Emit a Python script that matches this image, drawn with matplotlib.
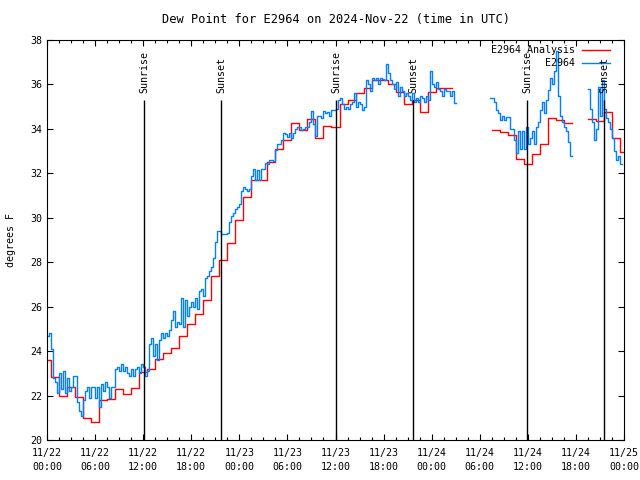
import matplotlib

matplotlib.use("Agg")
import matplotlib.pyplot as plt
import numpy as np

nan = np.nan

# analysis: one value per hour, 11/22 00:00 .. 11/25 00:00 (UTC)
analysis_hours = list(range(73))
analysis = [
    23.6, 22.82, 22.0, 22.4, 21.95, 20.97, 20.8, 21.8, 21.85, 22.3,
    22.07, 22.33, 23.07, 23.2, 23.63, 23.93, 24.12, 24.7, 25.2, 25.67,
    26.3, 27.4, 28.1, 28.85, 29.9, 30.95, 31.7, 31.7, 32.52, 33.1,
    33.5, 34.25, 33.95, 34.45, 33.6, 34.15, 34.07, 35.1, 35.3, 35.6,
    35.83, 36.2, 36.2, 36.0, 35.65, 35.1, 35.3, 34.75, 35.67, 35.85,
    35.85, nan, nan, nan, nan, nan, 33.95, 33.85, 33.72, 32.64,
    32.42, 32.87, 33.3, 34.47, 34.4, 34.25, nan, nan, 34.43, 34.37,
    34.75, 33.6, 32.97,
]

# station obs, every 15 minutes (4 values per hour)
obs_hours = [h / 4 for h in range(288)]
obs = [
    24.7, 24.8, 24.1, 22.8,   22.6, 22.1, 23.0, 22.3,   23.1, 22.1, 22.8, 22.2,
    22.4, 22.9, 22.9, 21.7,   21.3, 21.1, 21.8, 22.2,   22.4, 21.9, 22.4, 22.4,
    21.9, 22.4, 21.5, 22.5,   22.2, 22.6, 22.4, 21.9,   22.4, 22.4, 23.2, 23.3,
    23.1, 23.4, 23.1, 23.3,   23.0, 22.9, 23.2, 22.9,   23.2, 23.3, 23.0, 23.4,
    23.3, 22.9, 23.1, 24.3,   24.6, 23.8, 24.3, 23.6,   24.5, 24.8, 24.6, 24.8,
    24.7, 24.95, 25.4, 25.8,  25.1, 25.3, 25.2, 26.4,   25.1, 26.3, 25.6, 26.0,
    26.2, 26.0, 26.4, 25.9,   26.7, 26.8, 26.5, 27.3,   27.4, 27.6, 27.8, 28.2,
    28.9, 29.4, 29.4, 29.25,  29.25, 29.25, 29.3, 29.8, 30.1, 30.2, 30.4, 30.5,
    30.6, 31.2, 31.4, 31.3,   31.2, 31.3, 31.9, 32.2,   31.7, 32.15, 31.7, 32.2,
    32.2, 32.45, 32.4, 32.6,  32.6, 32.55, 33.05, 33.3, 33.3, 33.5, 33.8, 33.75,
    33.65, 33.8, 33.6, 33.8,  34.0, 34.1, 34.1, 33.95,  34.0, 34.1, 34.1, 34.3,
    34.8, 34.2, 33.7, 34.6,   34.6, 34.5, 34.8, 34.7,   34.75, 34.6, 34.85, 34.85,
    34.9, 35.3, 35.4, 35.1,   34.9, 35.0, 34.9, 35.1,   35.2, 35.6, 35.0, 35.2,
    35.1, 34.85, 35.0, 36.2,  36.0, 35.7, 36.3, 36.2,   36.3, 36.0, 36.3, 36.25,
    36.2, 36.9, 36.5, 36.2,   36.0, 35.8, 36.1, 35.5,   35.9, 35.7, 35.5, 35.6,
    35.5, 35.3, 35.6, 35.2,   35.4, 35.2, 35.5, 35.4,   35.2, 35.5, 35.3, 36.6,
    36.0, 35.9, 36.1, 35.8,   35.7, 35.5, 35.8, 35.7,   35.7, 35.5, 35.7, 35.15,
    nan, nan, nan, nan,       nan, nan, nan, nan,       nan, nan, nan, nan,
    nan, nan, nan, nan,       nan, 35.4, 35.4, 35.2,    34.85, 34.7, 34.4, 34.6,
    34.4, 34.55, 34.55, 34.0, 34.0, 33.5, 32.9, 33.9,   33.1, 33.9, 33.1, 34.1,
    33.3, 33.6, 33.9, 33.3,   34.1, 34.3, 34.85, 35.2,  34.7, 35.3, 35.75, 36.3,
    36.0, 36.6, 37.5, 35.5,   34.6, 34.3, 34.1, 33.9,   33.4, 32.8, nan, nan,
    nan, nan, nan, nan,       nan, nan, 35.8, 34.9,     34.3, 33.5, 34.0, 35.9,
    34.6, 36.2, 34.9, 34.5,   34.3, 34.0, 33.6, 33.0,   32.6, 32.8, 32.4, nan,
]

sun_hours = [12.1, 21.7, 36.1, 45.7, 59.9, 69.5]
sun_labels = ["Sunrise", "Sunset", "Sunrise", "Sunset", "Sunrise", "Sunset"]
sun_line_top = 35.3

tick_hours = list(range(0, 73, 6))
tick_labels = [
    "11/22\n00:00", "11/22\n06:00", "11/22\n12:00", "11/22\n18:00",
    "11/23\n00:00", "11/23\n06:00", "11/23\n12:00", "11/23\n18:00",
    "11/24\n00:00", "11/24\n06:00", "11/24\n12:00", "11/24\n18:00",
    "11/25\n00:00",
]

red = "#ff0000"
blue = "#0080ff"

plt.rcParams["font.family"] = "DejaVu Sans Mono"
plt.rcParams["font.size"] = 7.2

fig = plt.figure(figsize=(6.4, 4.8), dpi=100)
ax = fig.add_axes([47 / 640, 40 / 480, 577 / 640, 400 / 480])

ax.plot(analysis_hours, analysis, drawstyle="steps-mid", color=red, lw=1.0)
ax.plot(obs_hours, obs, drawstyle="steps-post", color=blue, lw=1.0)

ax.vlines(sun_hours, 20, sun_line_top, color="black", lw=1.0)
for h, lab in zip(sun_hours, sun_labels):
    ax.text(h, sun_line_top + 0.3, lab, rotation=90, ha="center", va="bottom")

# gnuplot-style key: text right aligned, sample on the right
ax.text(0.915, 0.975, "E2964 Analysis", ha="right", va="center", transform=ax.transAxes)
ax.plot([0.927, 0.976], [0.975, 0.975], color=red, lw=1.0, transform=ax.transAxes)
ax.text(0.915, 0.9425, "E2964", ha="right", va="center", transform=ax.transAxes)
ax.plot([0.927, 0.976], [0.9425, 0.9425], color=blue, lw=1.0, transform=ax.transAxes)

ax.set_xlim(0, 72)
ax.set_ylim(20, 38)
ax.set_xticks(tick_hours)
ax.set_xticklabels(tick_labels, linespacing=1.45)
ax.set_xticks(np.arange(0, 72.1, 1.5), minor=True)
ax.set_yticks(range(20, 39, 2))
ax.tick_params(which="both", direction="in", top=True, right=True, width=0.8)
ax.tick_params(which="major", length=4.5)
ax.tick_params(which="minor", length=2.5)
ax.tick_params(axis="x", pad=6)

ax.set_title("Dew Point for E2964 on 2024-Nov-22 (time in UTC)", pad=12)
ax.set_ylabel("degrees F", labelpad=10)

plt.savefig("out.png", dpi=100)
plt.close()
